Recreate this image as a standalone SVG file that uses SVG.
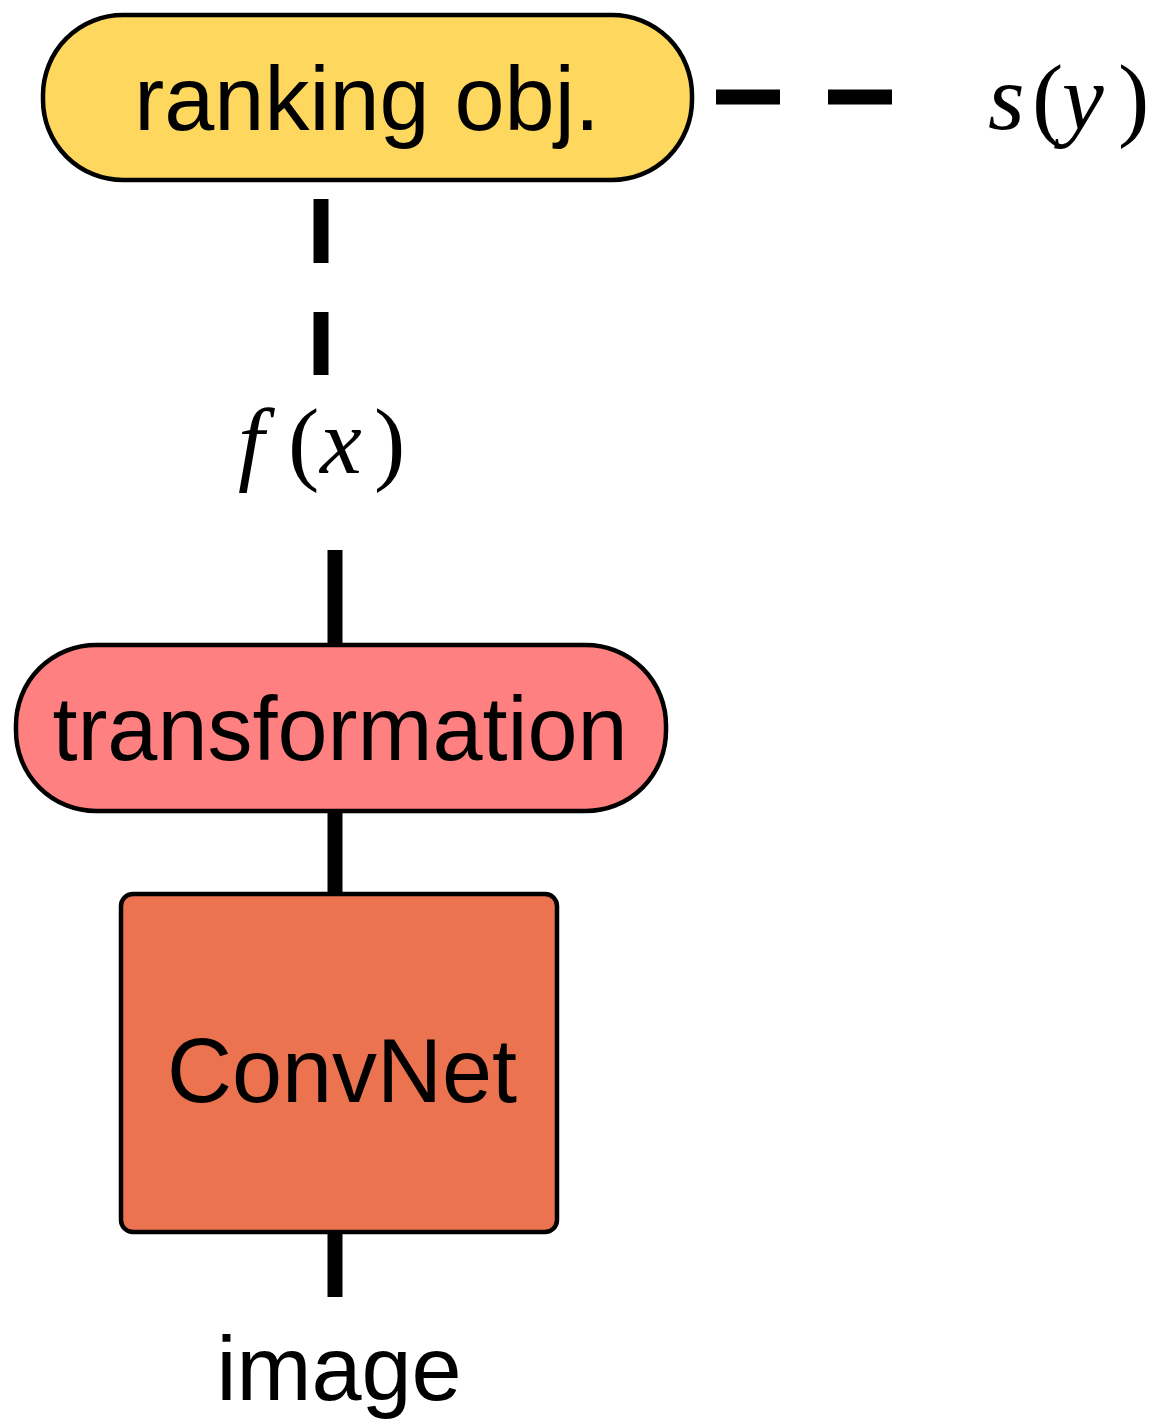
<svg xmlns="http://www.w3.org/2000/svg" width="1162" height="1424" viewBox="0 0 1162 1424">
  <style>
    .box { stroke: #000; stroke-width: 4.5; }
    .lbl { font-family: "Liberation Sans", Arial, Helvetica, sans-serif; font-size: 90px; fill: #000; text-anchor: middle; }
    .math { font-family: "Liberation Serif", "Times New Roman", serif; font-size: 94px; fill: #000; }
    .var { font-style: italic; }
    .solid { stroke: #000; stroke-width: 15; fill: none; }
    .dash { stroke: #000; stroke-width: 15; fill: none; }
  </style>

  <!-- connectors -->
  <g id="connectors">
    <line class="dash" x1="716" y1="97" x2="780" y2="97"/>
    <line class="dash" x1="828" y1="97" x2="892" y2="97"/>
    <line class="dash" x1="321" y1="199" x2="321" y2="263"/>
    <line class="dash" x1="321" y1="312" x2="321" y2="375"/>
    <line class="solid" x1="335" y1="550" x2="335" y2="645"/>
    <line class="solid" x1="335" y1="811" x2="335" y2="893"/>
    <line class="solid" x1="335" y1="1232" x2="335" y2="1297"/>
  </g>

  <!-- ranking objective -->
  <g id="ranking">
    <rect class="box" x="43" y="15" width="649" height="165" rx="80" ry="80" fill="#FED75E"/>
    <text class="lbl" x="367" y="130">ranking obj.</text>
  </g>

  <!-- s(y) -->
  <g id="label-sy">
    <text class="math" y="129"><tspan class="var" x="988">s</tspan><tspan x="1032">(</tspan><tspan class="var" x="1062">y</tspan><tspan x="1118">)</tspan></text>
  </g>

  <!-- f(x) -->
  <g id="label-fx">
    <text class="math" y="473"><tspan class="var" x="238">f</tspan><tspan x="288">(</tspan><tspan class="var" x="320">x</tspan><tspan x="374">)</tspan></text>
  </g>

  <!-- transformation -->
  <g id="transformation">
    <rect class="box" x="16" y="645" width="650" height="166" rx="80" ry="80" fill="#FF8080"/>
    <text class="lbl" x="340" y="760">transformation</text>
  </g>

  <!-- ConvNet -->
  <g id="convnet">
    <rect class="box" x="121" y="894" width="436" height="338" rx="12" ry="12" fill="#EB7350"/>
    <text class="lbl" x="342" y="1102">ConvNet</text>
  </g>

  <!-- image input -->
  <g id="image">
    <text class="lbl" x="339" y="1400">image</text>
  </g>
</svg>
